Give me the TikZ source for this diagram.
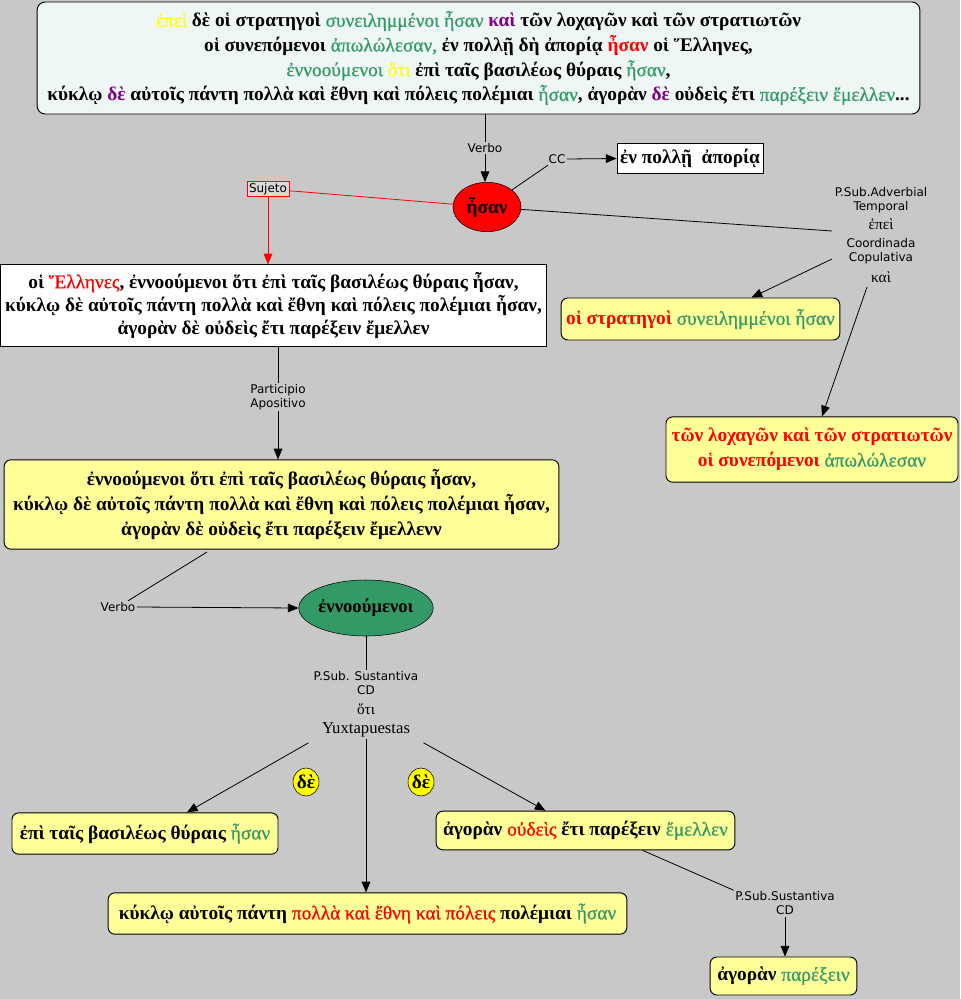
\documentclass[tikz,border=0pt]{standalone}
\usepackage{fontspec}
\setmainfont{Liberation Serif}
\newfontfamily\lblfont{DejaVu Sans}
\newfontface\medfont{Liberation Serif}[FakeBold=0.8]
\usetikzlibrary{arrows.meta,shapes.geometric,calc}
\definecolor{bgc}{HTML}{C8C8C8}
\definecolor{topfill}{HTML}{EEF6F6}
\definecolor{yfill}{HTML}{FFFF99}
\definecolor{grT}{HTML}{339966}
\definecolor{prT}{HTML}{800080}
\definecolor{ylT}{HTML}{FFFF00}
\definecolor{rdT}{HTML}{FF0000}
\newcommand{\GreenW}[1]{{\medfont\color{grT}#1}}
\newcommand{\RedB}[1]{{\color{rdT}#1}}
\newcommand{\RedW}[1]{{\medfont\color{rdT}#1}}
\newcommand{\YellowW}[1]{{\medfont\color{ylT}#1}}
\newcommand{\PurpleB}[1]{{\color{prT}#1}}
\begin{document}
\begin{tikzpicture}[x=0.75pt,y=-0.75pt,
  gk/.style={font=\bfseries\fontsize{14.5}{18.5}\selectfont, align=center, inner sep=2pt},
  lbl/.style={font=\lblfont\fontsize{9}{10.5}\selectfont, align=center, inner sep=1pt},
  gklbl/.style={font=\fontsize{11.5}{13}\selectfont, align=center, inner sep=1pt},
  ybox/.style={gk, draw, fill=yfill, rounded corners=5pt, line width=0.7pt},
  wbox/.style={gk, draw, fill=white, line width=0.7pt},
  arr/.style={-{Triangle[length=8pt,width=6.5pt]}, line width=0.6pt},
  ln/.style={line width=0.6pt}]
\useasboundingbox (0,0) rectangle (960,999);
\fill[bgc] (0,0) rectangle (960,999);

% top box
\node[gk, draw, fill=topfill, rounded corners=6pt, line width=0.7pt,
  minimum width=662pt, minimum height=84pt] (top) at (478.5,58)
  {\YellowW{ἐπεὶ} δὲ οἱ στρατηγοὶ \GreenW{συνειλημμένοι ἦσαν} \PurpleB{καὶ} τῶν λοχαγῶν καὶ τῶν στρατιωτῶν\\
   οἱ συνεπόμενοι \GreenW{ἀπωλώλεσαν,} ἐν πολλῇ δὴ ἀπορίᾳ \RedB{ἦσαν} οἱ Ἕλληνες,\\
   \GreenW{ἐννοούμενοι} \YellowW{ὅτι} ἐπὶ ταῖς βασιλέως θύραις \GreenW{ἦσαν},\\
   κύκλῳ \PurpleB{δὲ} αὐτοῖς πάντη πολλὰ καὶ ἔθνη καὶ πόλεις πολέμιαι \GreenW{ἦσαν}, ἀγορὰν \PurpleB{δὲ} οὐδεὶς ἔτι \GreenW{παρέξειν ἔμελλεν}...};

\node[lbl] (verbo1) at (485,148) {Verbo};
\node[gk, ellipse, draw, fill=rdT, minimum width=51pt, minimum height=37pt, inner sep=0pt] (esan) at (487,207) {ἦσαν};
\node[lbl] (cc) at (557,159) {CC};
\node[wbox, minimum width=109.5pt, minimum height=23pt] (ena) at (690,158.5) {ἐν πολλῇ \ ἀπορίᾳ};
\node[lbl, draw=rdT, line width=0.6pt, fill=bgc!70!white, inner sep=1.5pt] (sujeto) at (268,189) {Sujeto};

\node[wbox, minimum width=410pt, minimum height=61pt] (hel) at (273.5,305.5)
  {οἱ \RedW{Ἕλληνες}, ἐννοούμενοι ὅτι ἐπὶ ταῖς βασιλέως θύραις ἦσαν,\\[-1pt]
   κύκλῳ δὲ αὐτοῖς πάντη πολλὰ καὶ ἔθνη καὶ πόλεις πολέμιαι ἦσαν,\\[-1pt]
   ἀγορὰν δὲ οὐδεὶς ἔτι παρέξειν ἔμελλεν};

\node[lbl] (part) at (278,397) {Participio\\Apositivo};

\node[ybox, minimum width=416pt, minimum height=67pt] (ybig) at (281.5,504.5)
  {ἐννοούμενοι ὅτι ἐπὶ ταῖς βασιλέως θύραις ἦσαν,\\
   κύκλῳ δὲ αὐτοῖς πάντη πολλὰ καὶ ἔθνη καὶ πόλεις πολέμιαι ἦσαν,\\
   ἀγορὰν δὲ οὐδεὶς ἔτι παρέξειν ἔμελλενν};

\node[lbl] (verbo2) at (118,607) {Verbo};
\node[gk, font=\bfseries\fontsize{14}{16}\selectfont, ellipse, draw, fill=grT, minimum width=88.5pt, minimum height=42pt, inner sep=0pt] (enno) at (366,608) {ἐννοούμενοι};

\node[lbl] (psubA) at (366,683.5) {P.Sub. Sustantiva\\CD};
\node[gklbl] (oti) at (366,709) {ὅτι};
\node[gklbl, font=\fontsize{12.5}{14}\selectfont] (yux) at (366,730) {Yuxtapuestas};

\node[gk, ellipse, draw, fill=ylT, minimum width=19.5pt, minimum height=21pt, inner sep=0pt] (de1) at (306,782) {δὲ};
\node[gk, ellipse, draw, fill=ylT, minimum width=19.5pt, minimum height=21pt, inner sep=0pt] (de2) at (421,782) {δὲ};

\node[ybox, minimum width=199.5pt, minimum height=31pt] (b1) at (145,833.5) {ἐπὶ ταῖς βασιλέως θύραις \GreenW{ἦσαν}};
\node[ybox, minimum width=389pt, minimum height=31pt] (b2) at (367.5,913.5) {κύκλῳ αὐτοῖς πάντη \RedW{πολλὰ καὶ ἔθνη καὶ πόλεις} πολέμιαι \GreenW{ἦσαν}};
\node[ybox, minimum width=224pt, minimum height=29pt] (b3) at (585.5,830.5) {ἀγορὰν \RedW{οὐδεὶς} ἔτι παρέξειν \GreenW{ἔμελλεν}};
\node[lbl] (psub2) at (785,903.5) {P.Sub.Sustantiva\\CD};
\node[ybox, minimum width=110pt, minimum height=28.5pt] (b4) at (783.5,976) {ἀγορὰν \GreenW{παρέξειν}};

\node[lbl] (adv) at (881,200) {P.Sub.Adverbial\\Temporal};
\node[gklbl] (epei) at (881,224) {ἐπεὶ};
\node[lbl] (cop) at (881,251) {Coordinada\\Copulativa};
\node[gklbl] (kai) at (881,277) {καὶ};

\node[ybox, minimum width=209pt, minimum height=31.5pt] (b5) at (700.5,319) {\RedB{οἱ στρατηγοὶ} \GreenW{συνειλημμένοι ἦσαν}};
\node[ybox, minimum width=219pt, minimum height=49pt] (b6) at (812,449.5) {\RedB{τῶν λοχαγῶν καὶ τῶν στρατιωτῶν}\\\RedB{οἱ συνεπόμενοι} \GreenW{ἀπωλώλεσαν}};

\coordinate (radj) at (832,231);
\coordinate (c1) at (832,259);
\coordinate (c2) at (867,287);
\coordinate (yb1) at (207,552);

% connectors
\draw[ln] (verbo1.north |- top.south) -- (verbo1.north);
\draw[arr] (verbo1.south) -- (verbo1.south |- esan.north);
\draw[ln] (esan) -- (cc);
\draw[arr] (cc.east) -- (ena.west);
\draw[ln, rdT] (esan) -- (sujeto);
\draw[arr, rdT] (sujeto.south) -- (sujeto.south |- hel.north);
\draw[ln] (part.north |- hel.south) -- (part.north);
\draw[arr] (part.south) -- (part.south |- ybig.north);
\draw[ln] (yb1) -- (verbo2);
\draw[arr] (verbo2.east) -- (enno.west);
\draw[ln] (enno.south) -- (psubA.north);
\draw[arr] ($(yux.south west)+(-12,4)$) -- ($(b1.north)+(42,0)$);
\draw[arr] (yux.south) -- (yux.south |- b2.north);
\draw[arr] ($(yux.south east)+(12,4)$) -- ($(b3.north)+(-40,0)$);
\draw[ln] ($(b3.south)+(57,0)$) -- (psub2.north west);
\draw[arr] (psub2.south) -- (psub2.south |- b4.north);
\draw[ln] (esan) -- (radj);
\draw[arr] (c1) -- ($(b5.north)+(51,0)$);
\draw[arr] (c2) -- ($(b6.north)+(10,0)$);
\end{tikzpicture}
\end{document}
